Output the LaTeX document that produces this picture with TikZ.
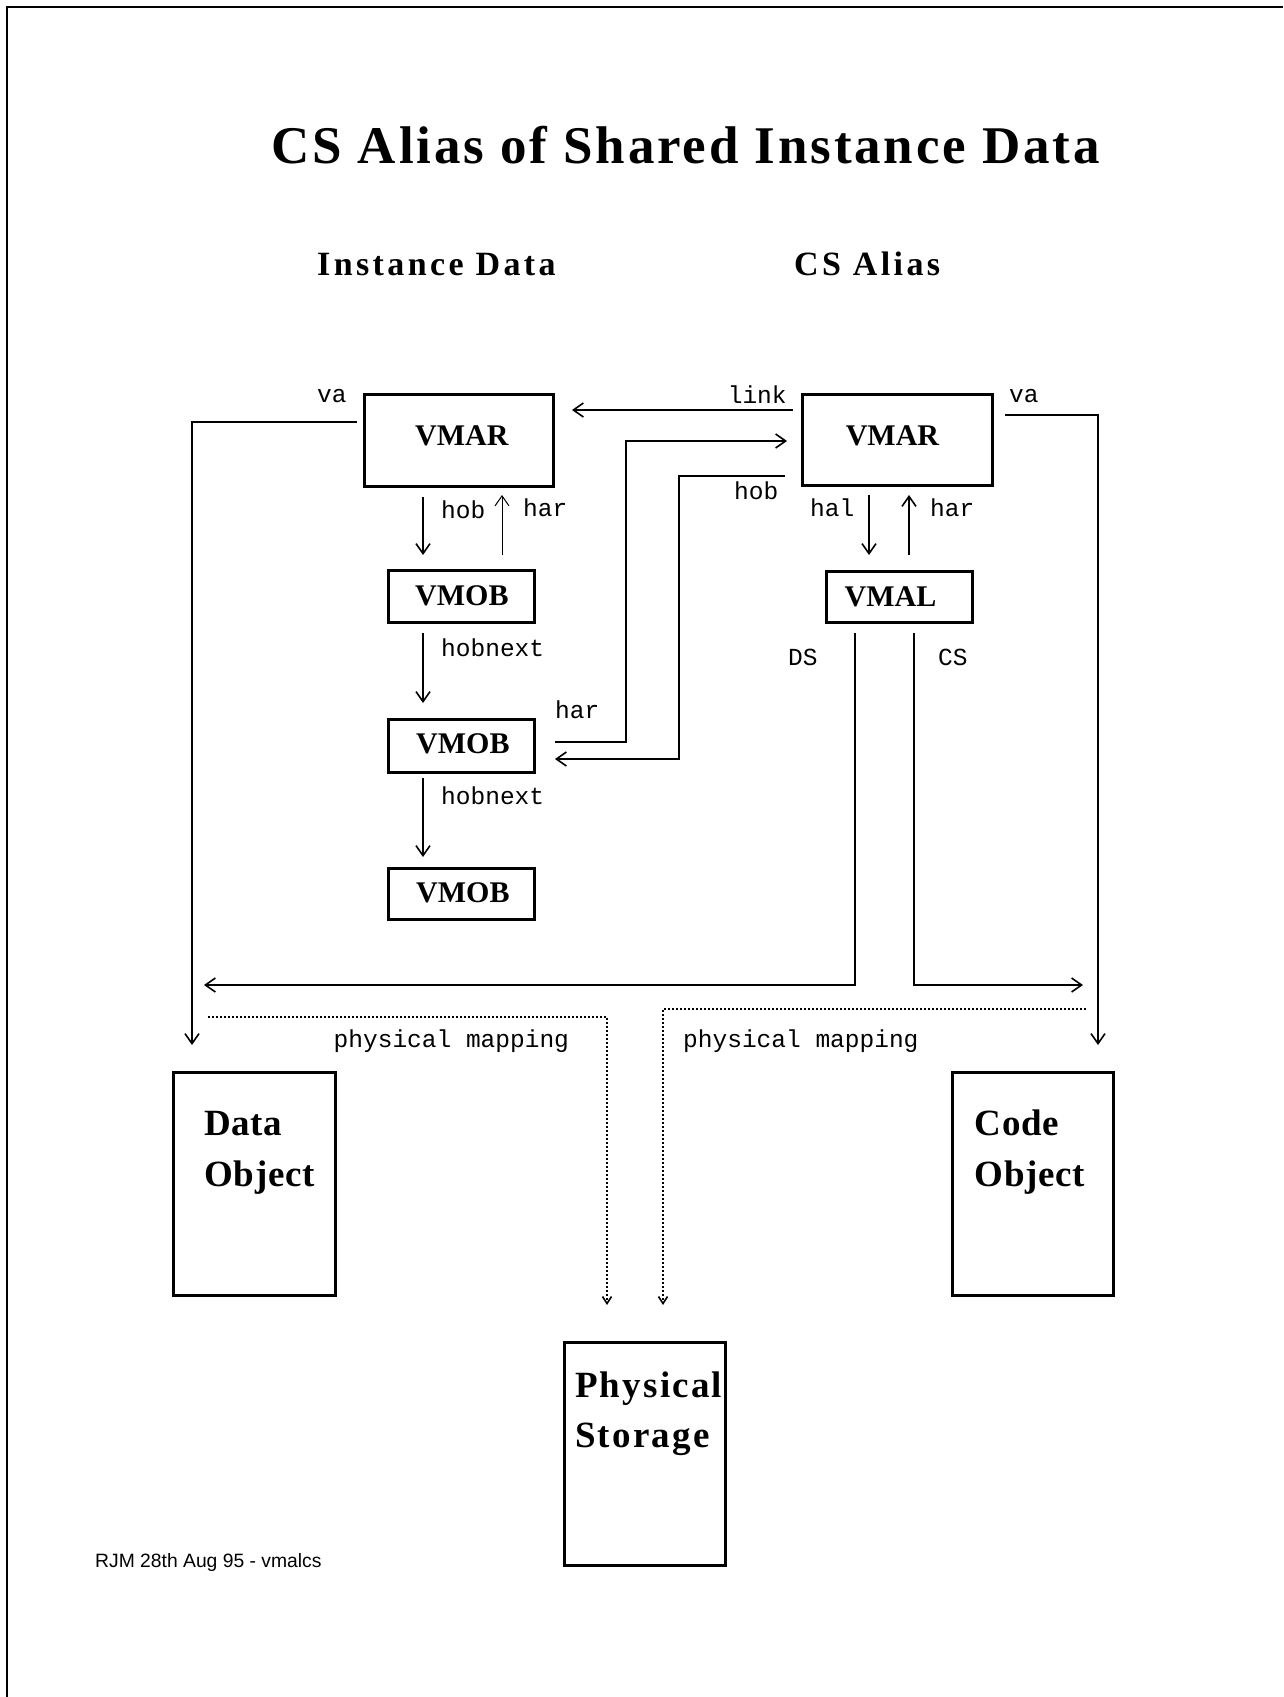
\documentclass[tikz,border=0pt]{standalone}
\usepackage{fontspec}
\setmainfont{Liberation Serif}
\newfontfamily\headfont[LetterSpace=5.4]{Liberation Serif}
\newfontfamily\subheadfont[LetterSpace=10]{Liberation Serif}
\newfontfamily\objfont[LetterSpace=2]{Liberation Serif}
\newfontfamily\storefont[LetterSpace=6]{Liberation Serif}
\newfontfamily\labelfont{Liberation Mono}
\newfontfamily\notefont{Liberation Sans}
\usetikzlibrary{arrows.meta,calc}

\tikzset{
  box/.style={draw, line width=3pt, outer sep=0pt, inner sep=0pt},
  vmname/.style={anchor=base west, inner sep=0pt, font=\bfseries\fontsize{30}{36}\selectfont},
  objname/.style={anchor=base west, inner sep=0pt, font=\objfont\bfseries\fontsize{37}{44}\selectfont},
  storename/.style={anchor=base west, inner sep=0pt, font=\storefont\bfseries\fontsize{37}{44}\selectfont},
  lbl/.style={anchor=base west, inner sep=0pt, font=\labelfont\fontsize{24.5}{28}\selectfont},
  conn/.style={line width=1.6pt, ->},
  thinconn/.style={line width=1pt, ->},
  mapping/.style={line width=1.6pt, dash pattern=on 1.6pt off 2.4pt,
    -{Straight Barb[length=7pt,width=9pt]}},
}

\begin{document}
\begin{tikzpicture}[x=1pt, y=-1pt, >={Straight Barb[length=10pt,width=14pt]}]
\useasboundingbox (0,0) rectangle (1283,1697);

% page frame: top and left edges
\coordinate (frameTL) at (7,7);
\coordinate (frameTR) at (1283,7);
\coordinate (frameBL) at (7,1697);
\draw[line width=2.5pt] (frameTR) -- (frameTL) -- (frameBL);

% headings
\node[anchor=base west, inner sep=0pt, font=\headfont\bfseries\fontsize{53}{60}\selectfont]
  (title) at (271,163) {CS Alias of Shared Instance Data};
\node[anchor=base west, inner sep=0pt, font=\subheadfont\bfseries\fontsize{34}{40}\selectfont]
  (subL) at (317,275) {Instance Data};
\node[anchor=base west, inner sep=0pt, font=\subheadfont\bfseries\fontsize{34}{40}\selectfont]
  (subR) at (794,275) {CS Alias};

% control blocks
\node[box, minimum width=189pt, minimum height=92pt] (vmarL) at (458.5,440) {};
\node[box, minimum width=146pt, minimum height=52pt] (vmob1) at (461,596) {};
\node[box, minimum width=146pt, minimum height=53pt] (vmob2) at (461,745.5) {};
\node[box, minimum width=146pt, minimum height=51pt] (vmob3) at (461,893.5) {};
\node[box, minimum width=190pt, minimum height=91pt] (vmarR) at (897,440) {};
\node[box, minimum width=146pt, minimum height=51pt] (vmal) at (899,596.5) {};

\node[vmname] (vmarLtext) at ($(vmarL.west)+(51,5)$) {VMAR};
\node[vmname] (vmob1text) at ($(vmob1.west)+(27,9)$) {VMOB};
\node[vmname] (vmob2text) at ($(vmob2.west)+(28,7.5)$) {VMOB};
\node[vmname] (vmob3text) at ($(vmob3.west)+(28,8.5)$) {VMOB};
\node[vmname] (vmarRtext) at ($(vmarR.west)+(43.6,5)$) {VMAR};
\node[vmname] (vmaltext) at ($(vmal.west)+(18.5,9.5)$) {VMAL};

% storage objects
\node[box, minimum width=162pt, minimum height=223pt] (dataobj) at (254,1183.5) {};
\node[box, minimum width=161pt, minimum height=223pt] (codeobj) at (1032.5,1183.5) {};
\node[box, minimum width=161pt, minimum height=223pt] (phys) at (644.5,1454) {};

\node[objname] (dataobjA) at ($(dataobj.north west)+(31,63)$) {Data};
\node[objname] (dataobjB) at ($(dataobj.north west)+(31,114)$) {Object};
\node[objname] (codeobjA) at ($(codeobj.north west)+(22.5,63)$) {Code};
\node[objname] (codeobjB) at ($(codeobj.north west)+(22.5,114)$) {Object};
\node[storename] (physA) at ($(phys.north west)+(11,54.5)$) {Physical};
\node[storename] (physB) at ($(phys.north west)+(11,104.5)$) {Storage};

% instance data chain
\draw[conn] ($(vmarL.west)+(-7,-18)$) -| ($(dataobj.north)+(-62,-27)$);
\draw[conn] ($(vmarL.south)+(-35.5,11)$) -- ($(vmob1.north)+(-38,-15)$);
\draw[thinconn] ($(vmob1.north)+(41,-15)$) -- ($(vmarL.south)+(43.5,9)$);
\draw[conn] ($(vmob1.south)+(-38,11)$) -- ($(vmob2.north)+(-38,-16)$);
\draw[conn] ($(vmob2.south)+(-38,6)$) -- ($(vmob3.north)+(-38,-11)$);

% alias links
\draw[conn] ($(vmarR.west)+(-9,-30)$) -- ($(vmarL.east)+(19,-30)$);
\draw[conn] ($(vmob2.east)+(21,-3.5)$) -| ($(vmarR.west)+(-176,1)$) -- ($(vmarR.west)+(-15,1)$);
\draw[conn] ($(vmarR.west)+(-17,36)$) -| ($(vmob2.east)+(145,13.5)$) -- ($(vmob2.east)+(21,13.5)$);
\draw[conn] ($(vmarR.south)+(-28,9.5)$) -- ($(vmal.north)+(-30,-16)$);
\draw[conn] ($(vmal.north)+(10,-16)$) -- ($(vmarR.south)+(12,9.5)$);
\draw[conn] ($(vmarR.east)+(13,-25)$) -| ($(codeobj.north)+(65.5,-27)$);
\draw[conn] ($(vmal.south)+(-44,11)$) |- ($(dataobj.north)+(-50,-87)$);
\draw[conn] ($(vmal.south)+(15,11)$) |- ($(codeobj.north)+(50.5,-87)$);

% physical mappings
\draw[mapping] ($(dataobj.north)+(-46,-55)$) -| ($(phys.north)+(-37.5,-37.5)$);
\draw[mapping] ($(codeobj.north)+(53.5,-63)$) -| ($(phys.north)+(18.5,-37.5)$);

% connector labels
\node[lbl] (lvaL) at (317,402) {va};
\node[lbl] (lhobL) at (441,518) {hob};
\node[lbl] (lharL) at (523,516) {har};
\node[lbl] (lnext1) at (441,656) {hobnext};
\node[lbl] (lnext2) at (441,804) {hobnext};
\node[lbl] (lharM) at (555,718) {har};
\node[lbl] (llink) at (727.6,403) {link};
\node[lbl] (lvaR) at (1009,402) {va};
\node[lbl] (lhobR) at (734,499) {hob};
\node[lbl] (lhal) at (810,516) {hal};
\node[lbl] (lharR) at (930,516) {har};
\node[lbl] (lds) at (788,665) {DS};
\node[lbl] (lcs) at (938,665) {CS};
\node[lbl] (lmapL) at (333.5,1047) {physical mapping};
\node[lbl] (lmapR) at (683,1047) {physical mapping};

% footer
\node[anchor=base west, inner sep=0pt, font=\notefont\fontsize{19.3}{23}\selectfont]
  (note) at (95,1567) {RJM 28th Aug 95 - vmalcs};
\end{tikzpicture}
\end{document}
